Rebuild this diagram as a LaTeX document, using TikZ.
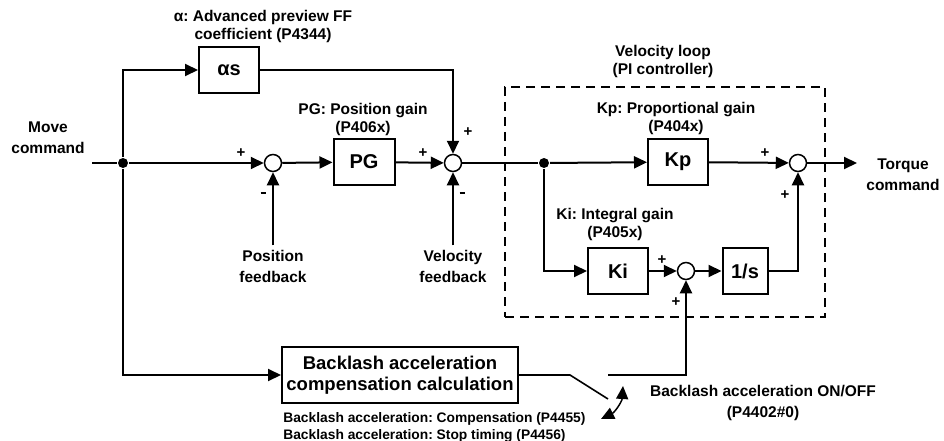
\documentclass[tikz,border=0pt]{standalone}
\usepackage{fontspec}
\setmainfont{Liberation Sans}
\usetikzlibrary{positioning,arrows.meta}
\frenchspacing

\begin{document}
\begin{tikzpicture}[x=1pt,y=-1pt,line width=2pt,
		>={Triangle[length=13pt,width=12pt]},
		blk/.style={draw,minimum width=60pt,minimum height=46pt,inner sep=0pt,font=\fontsize{20}{22}\selectfont\bfseries},
		sum/.style={draw,circle,minimum size=17pt,inner sep=0pt,line width=1.5pt},
		dot/.style={circle,fill,minimum size=10pt,inner sep=0pt},
		lbl/.style={align=center,font=\fontsize{15.5}{21}\selectfont\bfseries},
		par/.style={align=center,font=\fontsize{15.5}{18}\selectfont\bfseries},
		sgn/.style={inner sep=0pt,font=\fontsize{15}{15}\selectfont\bfseries}]
		
		\useasboundingbox (0,0) rectangle (944,441);
		
		\node[draw,dash pattern=on 9pt off 6pt,minimum width=320pt,minimum height=230pt] (vl) at (665,202) {};
		
		\coordinate (in) at (92,163);
		\node[dot] (j1) at (123,163) {};
		\node[blk] (as) at (229,70) {αs};
		\node[sum] (s1) at (273,163) {};
		\node[blk,minimum width=61pt] (pg) at (364,162) {PG};
		\node[sum] (s2) at (453,163) {};
		\node[dot] (j2) at (544,163) {};
		\node[blk] (kp) at (678,162) {Kp};
		\node[sum] (s4) at (798,163) {};
		\coordinate (out) at (857,163);
		\node[blk] (ki) at (618,271) {Ki};
		\node[sum] (s3) at (686,271) {};
		\node[blk,minimum width=45pt] (inv) at (745,271) {1/s};
		\node[draw,minimum width=236pt,minimum height=56pt,inner sep=0pt,align=center,font=\fontsize{18.5}{20.5}\selectfont\bfseries] (bl) at (400,375) {Backlash acceleration\\compensation calculation};
		
		\node[lbl] (mv) at (48,138) {Move\\command};
		\node[lbl] (tq) at (903,175) {Torque\\command};
		\node[lbl] (pf) at (273,266) {Position\\feedback};
		\node[lbl] (vf) at (453,266) {Velocity\\feedback};
		\node[par] (asl) at (263,26) {α: Advanced preview FF\\coefficient (P4344)};
		\node[par] (pgl) at (363,119) {PG: Position gain\\(P406x)};
		\node[par] (kpl) at (676,118) {Kp: Proportional gain\\(P404x)};
		\node[par] (kil) at (615,224) {Ki: Integral gain\\(P405x)};
		\node[par] (vll) at (663,61) {Velocity loop\\(PI controller)};
		\node[lbl] (onl) at (763,403) {Backlash acceleration ON/OFF\\(P4402\#0)};
		\node[align=left,anchor=west,font=\fontsize{13.8}{17}\selectfont\bfseries] (bll) at (279,427) {Backlash acceleration: Compensation (P4455)\\Backlash acceleration: Stop timing (P4456)};
		
		\draw (in) -- (j1);
		\draw[->] (j1) -- (s1);
		\draw[->] (s1) -- (pg);
		\draw[->] (pg) -- (s2);
		\draw (s2) -- (j2);
		\draw[->] (j2) -- (kp);
		\draw[->] (kp) -- (s4);
		\draw[->] (s4) -- (out);
		\draw[->] (j1) |- (as);
		\draw[->] (as) -| (s2);
		\draw[->] (j1) |- (bl);
		\draw[->] (pf) -- (s1);
		\draw[->] (vf) -- (s2);
		\draw[->] (j2) |- (ki);
		\draw[->] (ki) -- (s3);
		\draw[->] (s3) -- (inv);
		\draw[->] (inv) -| (s4);
		
		% switch
		\coordinate (sw1) at (570,375);
		\coordinate (sw2) at (608,399);
		\coordinate (sw3) at (608,375);
		\draw[line width=1.6pt] (bl) -- (sw1) -- (sw2);
		\draw[->] (sw3) -| (s3);
		\coordinate (tw1) at (601,419);
		\coordinate (tw2) at (623,386);
		\draw[<->,line width=1.5pt] (tw1) to[bend right=30] (tw2);
		
		\node[sgn] (p1) at (241,153) {+};
		\node[sgn] (m1) at (263,193) {\rule{5pt}{2pt}};
		\node[sgn] (p2) at (423,153) {+};
		\node[sgn] (p3) at (468,132) {+};
		\node[sgn] (m2) at (462,193) {\rule{5pt}{2pt}};
		\node[sgn] (p4) at (765,153) {+};
		\node[sgn] (p5) at (785,195) {+};
		\node[sgn] (p6) at (662,260) {+};
		\node[sgn] (p7) at (676,302) {+};
		
	\end{tikzpicture}
\end{document}
